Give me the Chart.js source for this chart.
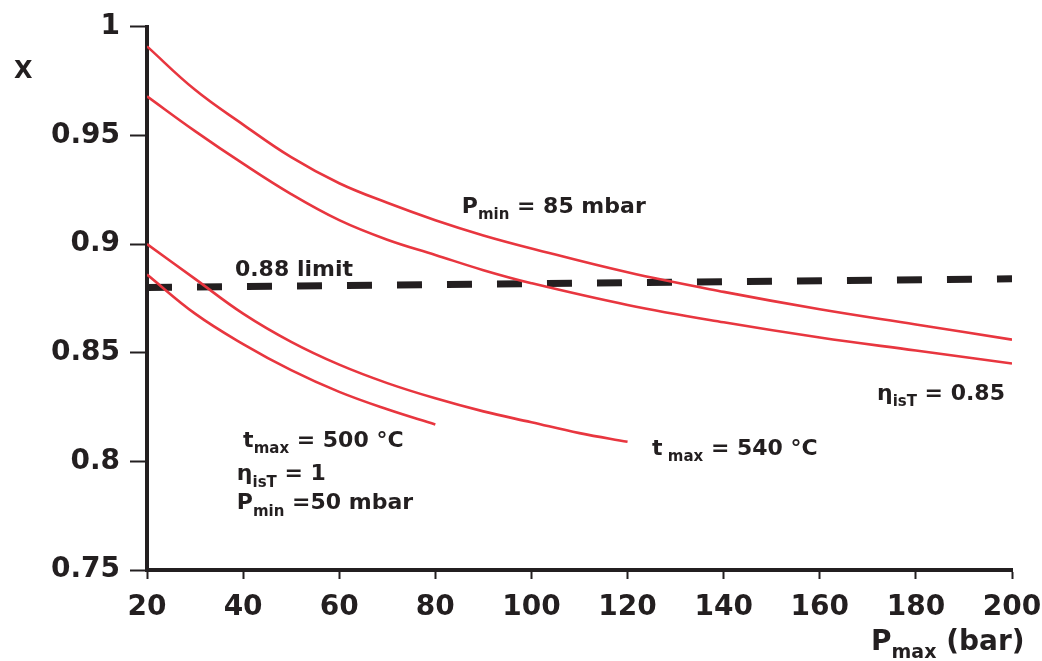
<!DOCTYPE html>
<html>
<head>
<meta charset="utf-8">
<script src="https://cdn.jsdelivr.net/npm/chart.js@4.4.1/dist/chart.umd.min.js"></script>
<style>
  html, body { margin: 0; padding: 0; background: #fff; }
  #wrap { width: 1042px; height: 661px; }
</style>
</head>
<body>
<div id="wrap"><canvas id="chart" width="1042" height="661"></canvas></div>
<script>
// P_max (bar) sample points
const pmaxUpper = [20, 30, 40, 50, 60, 70, 80, 90, 100, 120, 140, 160, 180, 200];
const xPmin85Upper = [0.991, 0.971, 0.955, 0.940, 0.928, 0.919, 0.911, 0.904, 0.898, 0.887, 0.878, 0.870, 0.863, 0.856];
const xPmin85Lower = [0.968, 0.952, 0.937, 0.923, 0.911, 0.902, 0.895, 0.888, 0.882, 0.872, 0.864, 0.857, 0.851, 0.845];

const pmaxT540 = [20, 30, 40, 50, 60, 70, 80, 90, 100, 110, 120];
const xT540 = [0.900, 0.884, 0.868, 0.855, 0.8445, 0.836, 0.829, 0.823, 0.818, 0.813, 0.809];

const pmaxT500 = [20, 30, 40, 50, 60, 70, 80];
const xT500 = [0.886, 0.868, 0.854, 0.842, 0.832, 0.824, 0.817];

const limitPmax = [20, 200];
const limitX = [0.880, 0.884];

const xTicks = [20, 40, 60, 80, 100, 120, 140, 160, 180, 200];
const yTickLabels = ['0.75', '0.8', '0.85', '0.9', '0.95', '1'];

const FONT = '"DejaVu Sans", "Liberation Sans", sans-serif';
const INK = '#231f20';
const RED = '#e8363f';

const toPoints = (xs, ys) => xs.map((x, i) => ({ x: x, y: ys[i] }));

// text notes: [text, isSubscript]
const notes = [
    { x: 85.5, y: 0.9144, parts: [['P'], ['min', 1], [' = 85 mbar']] },
    { x: 38.3, y: 0.8855, parts: [['0.88 limit']] },
    { x: 171.9, y: 0.8283, parts: [['η'], ['isT', 1], [' = 0.85']] },
    { x: 125.1, y: 0.8031, parts: [['t'], [' max', 1], [' = 540 °C']] },
    { x: 40.0, y: 0.8068, parts: [['t'], ['max', 1], [' = 500 °C']] },
    { x: 38.7, y: 0.7912, parts: [['η'], ['isT', 1], [' = 1']] },
    { x: 38.7, y: 0.7779, parts: [['P'], ['min', 1], [' =50 mbar']] },
];

function drawRich(ctx, x, y, parts, size) {
    let cx = x;
    for (const [t, sub] of parts) {
        const s = sub ? Math.round(size * 0.68) : size;
        ctx.font = 'bold ' + s + 'px ' + FONT;
        ctx.fillText(t, cx, y + (sub ? size * 0.3 : 0));
        cx += ctx.measureText(t).width;
    }
}

const notesPlugin = {
    id: 'notes',
    afterDraw(chart) {
        const ctx = chart.ctx;
        const xs = chart.scales.x, ys = chart.scales.y;
        ctx.save();
        ctx.fillStyle = INK;
        ctx.textAlign = 'left';
        ctx.textBaseline = 'alphabetic';
        notes.forEach(n => {
            drawRich(ctx, xs.getPixelForValue(n.x), ys.getPixelForValue(n.y), n.parts, 22);
        });
        // axis titles
        drawRich(ctx, 14, 78, [['X']], 24);
        drawRich(ctx, xs.right - 141, 650, [['P'], ['max', 1], [' (bar)']], 28);
        ctx.restore();
    }
};

const lineStyle = { borderColor: RED, borderWidth: 2.6, pointRadius: 0, fill: false, tension: 0.4 };

new Chart(document.getElementById('chart'), {
    type: 'line',
    data: {
        datasets: [
            { ...lineStyle, label: 'Pmin 85 upper', data: toPoints(pmaxUpper, xPmin85Upper) },
            { ...lineStyle, label: 'Pmin 85 lower', data: toPoints(pmaxUpper, xPmin85Lower) },
            { ...lineStyle, label: 'tmax 540', data: toPoints(pmaxT540, xT540) },
            { ...lineStyle, label: 'tmax 500', data: toPoints(pmaxT500, xT500) },
            { label: '0.88 limit', data: toPoints(limitPmax, limitX), borderColor: INK, borderWidth: 7,
              borderDash: [25, 25], pointRadius: 0, fill: false }
        ]
    },
    options: {
        responsive: false, animation: false,
        layout: { padding: { left: 0, right: 30, top: 23, bottom: 0 } },
        plugins: { legend: { display: false }, tooltip: { enabled: false } },
        scales: {
            x: {
                type: 'linear', min: 20, max: 200,
                afterBuildTicks: s => { s.ticks = xTicks.map(v => ({ value: v })); },
                afterFit: s => { s.height = 91; s.paddingRight = 0; },
                ticks: { color: INK, padding: 12, maxRotation: 0, autoSkip: false,
                         font: { family: FONT, size: 28, weight: 'bold' },
                         callback: v => String(v) },
                grid: { drawOnChartArea: false, tickLength: 9, tickWidth: 2, color: INK },
                border: { color: INK, width: 4 }
            },
            y: {
                type: 'linear', min: 0.75, max: 1,
                afterBuildTicks: s => { s.ticks = yTickLabels.map(v => ({ value: parseFloat(v) })); },
                afterFit: s => { s.width = 147; },
                ticks: { color: INK, padding: 10, autoSkip: false,
                         font: { family: FONT, size: 28, weight: 'bold' },
                         callback: (v, i) => yTickLabels[i] },
                grid: { drawOnChartArea: false, tickLength: 17, tickWidth: 2, color: INK },
                border: { color: INK, width: 4 }
            }
        }
    },
    plugins: [notesPlugin]
});
</script>
</body>
</html>
